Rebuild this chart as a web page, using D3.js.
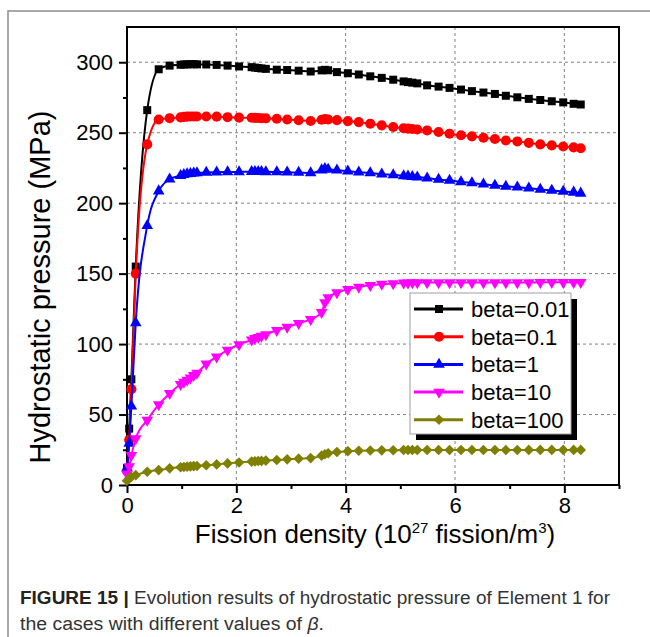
<!DOCTYPE html>
<html>
<head>
<meta charset="utf-8">
<script src="https://cdn.jsdelivr.net/npm/d3@7"></script>
<style>
    body { margin: 0; background: #fff; }
    svg { display: block; font-family: "Liberation Sans", Arial, sans-serif; }
</style>
</head>
<body>
<svg id="chart" width="650" height="637"></svg>
<script>
// fission density samples (10^27 fission/m^3)
const fission = [0, 0.04, 0.08, 0.16, 0.37, 0.58, 0.78, 0.98, 1.04, 1.1, 1.16, 1.22, 1.28, 1.45, 1.64, 1.84,
    2.05, 2.28, 2.34, 2.4, 2.46, 2.54, 2.74, 2.93, 3.14, 3.36, 3.56, 3.62, 3.68, 3.84, 4.04, 4.24, 4.45, 4.66,
    4.87, 5.06, 5.14, 5.22, 5.31, 5.49, 5.7, 5.9, 6.11, 6.31, 6.52, 6.73, 6.93, 7.14, 7.35, 7.56, 7.77, 7.98,
    8.17, 8.3];

// hydrostatic pressure (MPa) for each beta
const beta001 = [12, 40, 75, 155, 266, 295, 297.6, 298.2, 298.4, 298.5, 298.6, 298.6, 298.5, 298.4, 298.1, 297.6,
    297, 296.5, 296.2, 295.9, 295.6, 295.3, 294.7, 294.5, 294, 293.4, 294.2, 294.6, 294.3, 293, 292.2, 291.3, 290, 288.9,
    287.6, 286.4, 285.9, 285.5, 285, 283.6, 282.7, 281.8, 280.6, 279.5, 278.5, 277.5, 276.2, 275.1, 274, 273.2, 272.3, 271.5,
    270.5, 270];
const beta01 = [10, 32, 68, 150, 241.7, 259.4, 260.3, 260.9, 261.2, 261.4, 261.5, 261.5, 261.5, 261.5, 261.4, 261,
    260.7, 260.6, 260.5, 260.4, 260.3, 260.2, 259.9, 259.4, 258.8, 258.3, 259.2, 259.6, 259.4, 258.9, 258.2, 257.5, 256.4, 255.2,
    254, 253.2, 252.9, 252.6, 252.3, 251.6, 250.5, 249.3, 248.2, 247.4, 246.4, 245.5, 244.5, 243.8, 242.8, 241.7, 241, 240.2,
    239.6, 239];
const beta1 = [12, 29.5, 56, 115, 184, 208.6, 217, 219.5, 220.2, 220.7, 221, 221.2, 221.4, 221.8, 222, 222.1,
    222.2, 222.3, 222.4, 222.4, 222.3, 222.2, 222.1, 222, 221.8, 221.4, 223.5, 224.4, 224, 223.4, 222.7, 222, 221.4, 220.5,
    220.1, 219.4, 219.1, 218.8, 218.5, 217.8, 216.8, 216.2, 215.1, 214.3, 213.4, 212.6, 211.9, 211.3, 210.6, 209.8, 209, 208.3,
    207.7, 207];
const beta10 = [8, 13, 21, 33, 46, 57, 65, 71.5, 73, 74.5, 76, 77.8, 79.5, 86, 91, 95.7,
    99.7, 103, 104, 104.8, 105.6, 106.8, 109.8, 112, 114.8, 117.5, 122.5, 129.5, 133, 136.5, 138.8, 140.5, 141.7, 142.5,
    143, 143.4, 143.5, 143.6, 143.6, 143.7, 143.7, 143.7, 143.7, 143.7, 143.7, 143.7, 143.7, 143.7, 143.7, 143.8, 143.8, 143.8,
    143.8, 143.8];
const beta100 = [3, 4.7, 5.8, 7, 9.4, 10.6, 11.8, 12.6, 12.8, 13, 13.2, 13.4, 13.5, 14, 14.6, 15.3,
    16, 16.6, 16.8, 17, 17.1, 17.3, 17.7, 18.2, 18.7, 19.1, 20.8, 21.8, 22.5, 23.4, 24, 24.3, 24.5, 24.6,
    24.7, 24.8, 24.8, 24.8, 24.8, 24.8, 24.8, 24.8, 24.8, 24.8, 24.8, 24.8, 24.8, 24.8, 24.9, 24.9, 24.9, 24.9,
    24.9, 24.9];

const seriesNames = ["beta=0.01", "beta=0.1", "beta=1", "beta=10", "beta=100"];
const seriesValues = [beta001, beta01, beta1, beta10, beta100];
const seriesColors = ["#000000", "#ff0000", "#0000ff", "#ff00ff", "#808000"];

const xTicks = [0, 2, 4, 6, 8];
const yTicks = [0, 50, 100, 150, 200, 250, 300];

// plot frame in pixels
const plotLeft = 127, plotRight = 619, plotTop = 27, plotBottom = 485;

const svg = d3.select("#chart");

// outer figure border (top + left)
svg.append("path")
    .attr("d", "M8,637 L8,11 L650,11")
    .attr("fill", "none")
    .attr("stroke", "#8c8c8c")
    .attr("stroke-width", 1.5);

const x = d3.scaleLinear().domain([0, 9]).range([plotLeft, plotRight]);
const y = d3.scaleLinear().domain([0, 325]).range([plotBottom, plotTop]);

// dashed grid at major ticks
svg.append("g")
    .selectAll("line")
    .data(xTicks.filter(d => d > 0))
    .join("line")
    .attr("x1", d => x(d)).attr("x2", d => x(d))
    .attr("y1", plotTop).attr("y2", plotBottom)
    .attr("stroke", "#808080").attr("stroke-width", 1).attr("stroke-dasharray", "3,3");

svg.append("g")
    .selectAll("line")
    .data(yTicks.filter(d => d > 0))
    .join("line")
    .attr("y1", d => y(d)).attr("y2", d => y(d))
    .attr("x1", plotLeft).attr("x2", plotRight)
    .attr("stroke", "#808080").attr("stroke-width", 1).attr("stroke-dasharray", "3,3");

// axes
const xAxis = svg.append("g")
    .attr("transform", `translate(0,${plotBottom})`)
    .call(d3.axisBottom(x).tickValues(xTicks).tickSizeInner(8).tickSizeOuter(0).tickPadding(4));
const xMinor = svg.append("g")
    .attr("transform", `translate(0,${plotBottom})`)
    .call(d3.axisBottom(x).tickValues([1, 3, 5, 7, 9]).tickSize(4).tickFormat(""));
const yAxis = svg.append("g")
    .attr("transform", `translate(${plotLeft},0)`)
    .call(d3.axisLeft(y).tickValues(yTicks).tickSizeInner(8).tickSizeOuter(0).tickPadding(6));
const yMinor = svg.append("g")
    .attr("transform", `translate(${plotLeft},0)`)
    .call(d3.axisLeft(y).tickValues([25, 75, 125, 175, 225, 275]).tickSize(4).tickFormat(""));

[xAxis, xMinor, yAxis, yMinor].forEach(g => {
    g.select(".domain").remove();
    g.selectAll(".tick line").attr("stroke", "#000").attr("stroke-width", 2);
    g.selectAll(".tick text")
        .attr("font-size", 22)
        .attr("font-family", "Liberation Sans, Arial, sans-serif")
        .attr("fill", "#000");
});

// box around plot
svg.append("rect")
    .attr("x", plotLeft).attr("y", plotTop)
    .attr("width", plotRight - plotLeft).attr("height", plotBottom - plotTop)
    .attr("fill", "none").attr("stroke", "#000").attr("stroke-width", 2);

// markers per series
const symbols = [
    d3.symbol(d3.symbolSquare, 64),
    d3.symbol(d3.symbolCircle, 80),
    d3.symbol(d3.symbolTriangle, 58),
    d3.symbol(d3.symbolTriangle, 58),
    d3.symbol(d3.symbolDiamond2, 72)
];
const rotations = [0, 0, 0, 180, 0];

const line = d3.line()
    .x(d => x(d[0]))
    .y(d => y(d[1]))
    .curve(d3.curveMonotoneX);

seriesValues.forEach((vals, i) => {
    const pts = fission.map((f, j) => [f, vals[j]]);
    const g = svg.append("g");
    g.append("path")
        .attr("d", line(pts))
        .attr("fill", "none")
        .attr("stroke", seriesColors[i])
        .attr("stroke-width", 2);
    g.selectAll("path.marker")
        .data(pts)
        .join("path")
        .attr("class", "marker")
        .attr("d", symbols[i])
        .attr("transform", d => `translate(${x(d[0])},${y(d[1])}) rotate(${rotations[i]})`)
        .attr("fill", seriesColors[i]);
});

// legend with drop shadow
const legX = 410, legY = 293, legW = 161, legH = 141;
svg.append("rect")
    .attr("x", legX + 6).attr("y", legY + 6)
    .attr("width", legW).attr("height", legH)
    .attr("fill", "#000");
svg.append("rect")
    .attr("x", legX).attr("y", legY)
    .attr("width", legW).attr("height", legH)
    .attr("fill", "#fff").attr("stroke", "#a0a0a0").attr("stroke-width", 1);

const legend = svg.append("g")
    .selectAll("g")
    .data(seriesNames)
    .join("g")
    .attr("transform", (d, i) => `translate(0,${309 + i * 27.7})`);
legend.append("line")
    .attr("x1", 414).attr("x2", 463)
    .attr("stroke", (d, i) => seriesColors[i])
    .attr("stroke-width", 3);
legend.append("path")
    .attr("d", (d, i) => symbols[i]())
    .attr("transform", (d, i) => `translate(439,0) rotate(${rotations[i]})`)
    .attr("fill", (d, i) => seriesColors[i]);
legend.append("text")
    .attr("x", 471).attr("y", 8)
    .attr("font-size", 22)
    .text(d => d);

// axis titles
const xTitle = svg.append("text")
    .attr("x", 375).attr("y", 543)
    .attr("text-anchor", "middle")
    .attr("font-size", 26);
xTitle.append("tspan").text("Fission density (10");
xTitle.append("tspan").attr("font-size", 15).attr("dy", -10).text("27");
xTitle.append("tspan").attr("dy", 10).text(" fission/m");
xTitle.append("tspan").attr("font-size", 15).attr("dy", -10).text("3");
xTitle.append("tspan").attr("dy", 10).text(")");

svg.append("text")
    .attr("transform", "translate(50,287) rotate(-90)")
    .attr("text-anchor", "middle")
    .attr("font-size", 29)
    .text("Hydrostatic pressure (MPa)");

// caption
const cap1 = svg.append("text")
    .attr("x", 20).attr("y", 604)
    .attr("font-size", 18)
    .attr("fill", "#333")
    .attr("textLength", 590)
    .attr("lengthAdjust", "spacingAndGlyphs");
cap1.append("tspan").attr("font-weight", "bold").attr("fill", "#222").text("FIGURE 15 | ");
cap1.append("tspan").text("Evolution results of hydrostatic pressure of Element 1 for");

const cap2 = svg.append("text")
    .attr("x", 20).attr("y", 630)
    .attr("font-size", 18)
    .attr("fill", "#333")
    .attr("textLength", 304)
    .attr("lengthAdjust", "spacingAndGlyphs");
cap2.append("tspan").text("the cases with different values of ");
cap2.append("tspan").attr("font-style", "italic").text("β");
cap2.append("tspan").text(".");
</script>
</body>
</html>
